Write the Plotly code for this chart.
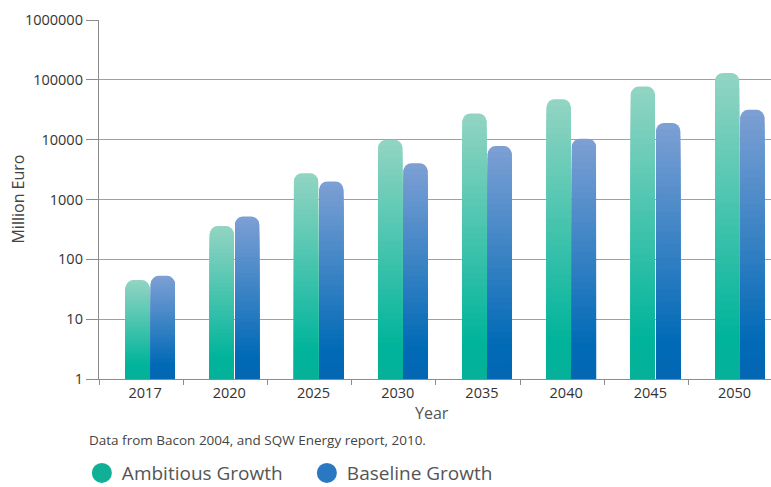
import plotly.graph_objects as go

years = ["2017", "2020", "2025", "2030", "2035", "2040", "2045", "2050"]
ambitious = [45, 360, 2750, 10000, 27500, 47500, 77000, 130000]
baseline = [53, 520, 2000, 4050, 7800, 10400, 19000, 31500]
ytick_vals = [1, 10, 100, 1000, 10000, 100000, 1000000]
ytick_text = ["1", "10", "100", "1000", "10000", "100000", "1000000"]

series = [
    ("Ambitious Growth", ambitious, (0x91, 0xd4, 0xc2), (0x00, 0xb4, 0x9b), (0x06, 0xb0, 0x98), -0.185, "#0fb095"),
    ("Baseline Growth", baseline, (0x7c, 0x9f, 0xd4), (0x00, 0x6a, 0xb6), (0x04, 0x66, 0xb2), 0.115, "#2a78c2"),
]

FONT = "Open Sans"
N = 40


def mix(c1, c2, t):
    return "rgb(%d,%d,%d)" % tuple(round(a + (b - a) * t) for a, b in zip(c1, c2))


fig = go.Figure()
for name, vals, top, low, bottom, off, lcol in series:
    for k in range(N):
        frac = 1 - k / N
        if frac >= 0.15:
            col = mix(low, top, (frac - 0.15) / 0.85)
        else:
            col = mix(bottom, low, frac / 0.15)
        fig.add_trace(go.Bar(
            x=years, y=[v ** frac for v in vals],
            width=0.287, offset=off,
            marker=dict(color=col, line=dict(width=0), cornerradius=8),
            showlegend=False, hoverinfo="skip",
        ))
    fig.add_trace(go.Scatter(
        x=[None], y=[None], mode="markers", name=name,
        marker=dict(symbol="circle", size=16, color=lcol, line=dict(color=lcol, width=4)),
    ))

fig.update_layout(
    width=771, height=487,
    margin=dict(l=99, r=0, t=20, b=108, autoexpand=False),
    paper_bgcolor="white", plot_bgcolor="white",
    barmode="overlay",
    font=dict(family=FONT, color="#333", size=14),
    showlegend=True,
    legend=dict(
        orientation="h", x=-0.0255, xanchor="left", y=-0.262, yanchor="middle",
        font=dict(size=19, color="#555"), entrywidth=180, itemwidth=30,
        bgcolor="rgba(0,0,0,0)",
    ),
    xaxis=dict(
        type="category", range=[-0.5, 7.48],
        showline=True, linecolor="#8c8c8c", linewidth=1.3,
        ticks="outside", tickson="boundaries", ticklen=5, tickcolor="#8c8c8c",
        tickfont=dict(size=14.5, color="#333"), ticklabelshift=4,
        showgrid=False, zeroline=False,
    ),
    yaxis=dict(
        type="log", range=[0, 6],
        tickvals=ytick_vals, ticktext=ytick_text,
        showline=True, linecolor="#8c8c8c", linewidth=1.3,
        ticks="outside", ticklen=12, tickcolor="#8c8c8c",
        tickfont=dict(size=14.5, color="#333"),
        showgrid=True, gridcolor="#a0a0a0", gridwidth=1.4,
        zeroline=False,
    ),
    annotations=[
        dict(text="Million Euro", x=-0.122, y=0.5, xref="paper", yref="paper",
             xanchor="center", yanchor="middle",
             textangle=-90, showarrow=False, font=dict(size=16, color="#444")),
        dict(text="Year", x=0.4955, y=-0.0947, xref="paper", yref="paper",
             xanchor="center", yanchor="middle",
             showarrow=False, font=dict(size=16, color="#555")),
        dict(text="Data from Bacon 2004, and SQW Energy report, 2010.", x=-0.0179, y=-0.17,
             xref="paper", yref="paper", xanchor="left", yanchor="middle",
             showarrow=False, font=dict(size=13.5, color="#444")),
    ],
)

fig.write_html(
    "out.html",
    config={"displayModeBar": False},
    post_script="document.body.style.margin='0';document.body.style.overflow='hidden';",
)
